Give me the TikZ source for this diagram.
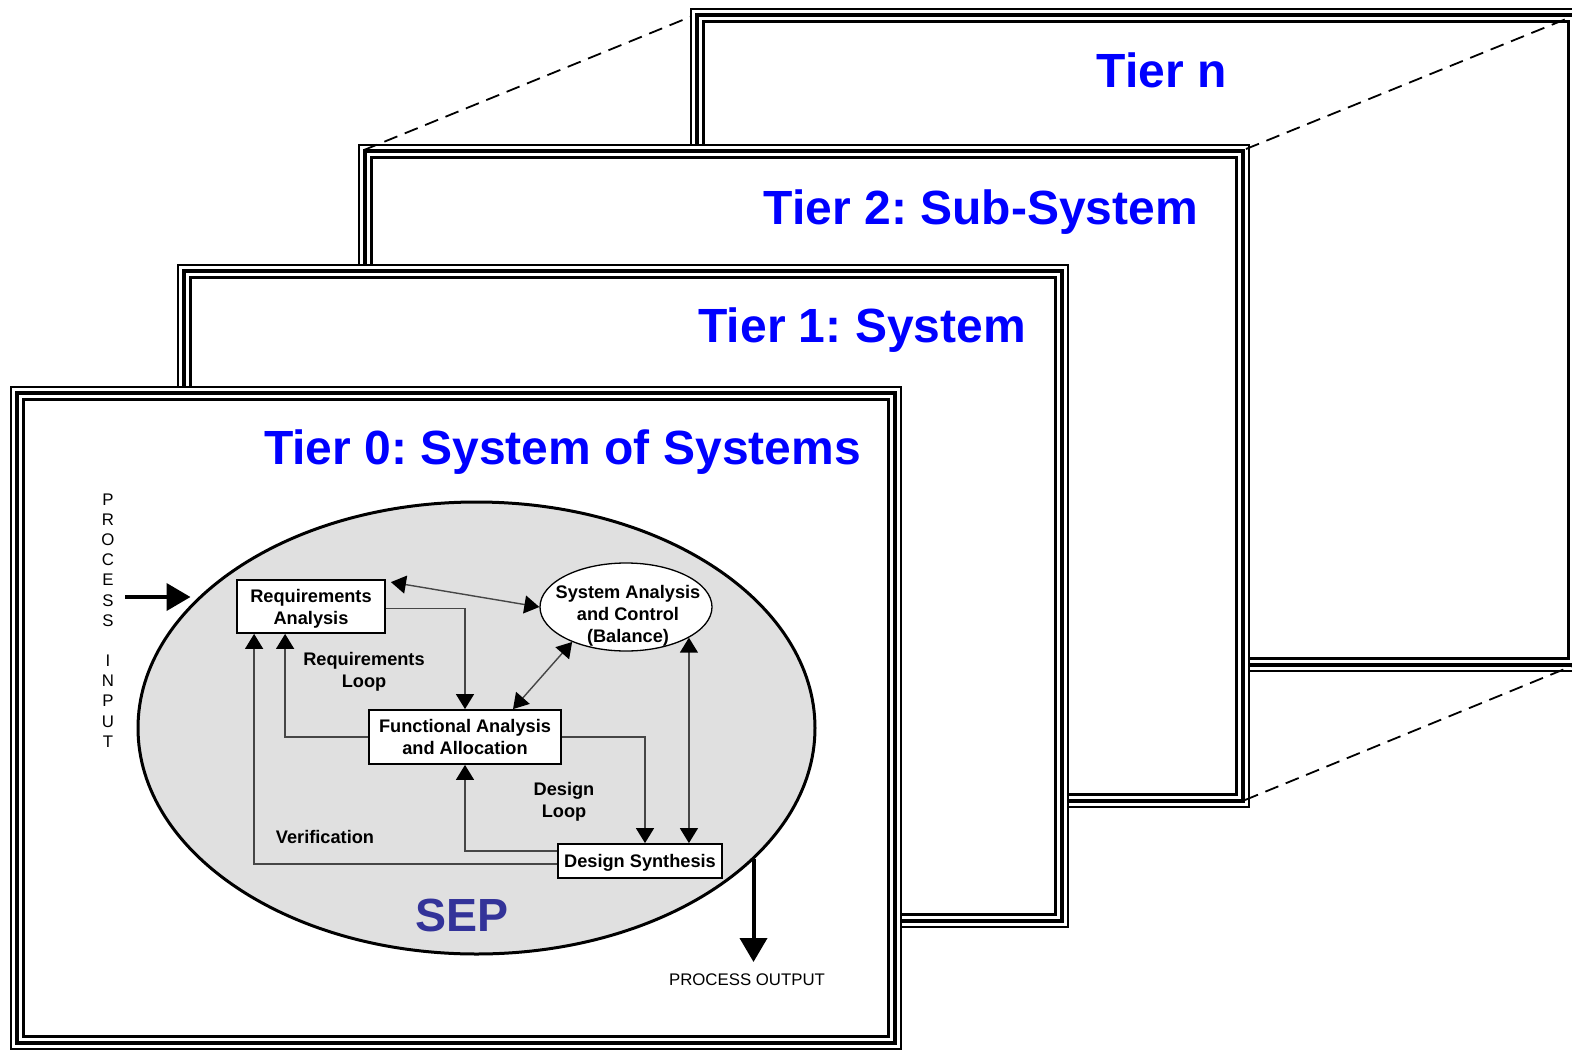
\documentclass[tikz,border=0pt]{standalone}
\usepackage{fontspec}
\setmainfont{Liberation Sans}
\frenchspacing
\usetikzlibrary{shapes.geometric,arrows.meta,calc}
\definecolor{tierblue}{RGB}{0,0,255}
\definecolor{sepblue}{RGB}{51,51,153}
\definecolor{sepgray}{RGB}{224,224,224}
\definecolor{conncol}{RGB}{70,70,70}
\newcommand{\tierframe}[2]{%
  \fill[white] (#1,#2) rectangle ++(892,664);
  \draw[line width=2.1] (#1+1,#2+1) rectangle ++(890,662);
  \draw[line width=4.5] (#1+7,#2+7) rectangle ++(878,650);
  \draw[line width=2.1] (#1+13.5,#2+13.5) rectangle ++(865,637);
}
\begin{document}
\begin{tikzpicture}[x=1pt,y=-1pt,
  tierlabel/.style={anchor=base east, inner sep=0, text=tierblue, font=\fontsize{48}{50}\selectfont\bfseries},
  procbox/.style={draw=black, line width=1.8, fill=white, inner sep=0, align=center, text depth=0pt, font=\fontsize{18.2}{22}\selectfont\bfseries},
  sacell/.style={ellipse, draw=black, line width=1.3, fill=white, inner sep=0, minimum width=172, minimum height=88},
  sepell/.style={ellipse, draw=black, line width=3, fill=sepgray, inner sep=0, minimum width=677, minimum height=452},
  lbl/.style={inner sep=0, align=center, text depth=0pt, font=\fontsize{18.2}{22}\selectfont\bfseries},
  reglbl/.style={inner sep=0, align=center, font=\fontsize{16.8}{20.17}\selectfont},
  seplbl/.style={inner sep=0, text=sepblue, font=\fontsize{46.5}{50}\selectfont\bfseries},
  conn/.style={draw=conncol, line width=1.4},
  arr/.style={conn, -{Triangle[length=15pt,width=18pt,color=black]}},
  dbl/.style={conn, {Triangle[length=15pt,width=18pt,color=black]}-{Triangle[length=15pt,width=18pt,color=black]}},
  bigarr/.style={draw=black, line width=4, -{Triangle[length=24pt,width=27pt]}},
  dashline/.style={draw=black, line width=1.8, dash pattern=on 14pt off 8pt}
]
\useasboundingbox (0,0) rectangle (1572,1052);
% frames, back to front
\tierframe{690}{8}
\node[tierlabel] (tn) at (1227,87) {Tier n};
\tierframe{358}{144}
\node[tierlabel] (t2) at (1198,224) {Tier 2: Sub-System};
\tierframe{177}{264}
\node[tierlabel] (t1) at (1026,342) {Tier 1: System};
\tierframe{10}{386}
\node[tierlabel] (t0) at (861,464) {Tier 0: System of Systems};
% dashed perspective lines
\coordinate (f2tl) at (364,150);
\coordinate (fntl) at (690,17);
\coordinate (f2tr) at (1246,149);
\coordinate (fntr) at (1566,19);
\coordinate (f2br) at (1245,800);
\coordinate (fnbr) at (1572,666);
\draw[dashline] (f2tl) -- (fntl);
\draw[dashline] (f2tr) -- (fntr);
\draw[dashline] (f2br) -- (fnbr);
% SEP
\node[sepell] (SEP) at (476.5,728) {};
\node[seplbl] (sep) at (462,915.5) {SEP};
\node[procbox, minimum width=148, minimum height=53] (RA) at (311,606.5) {Requirements\\Analysis};
\node[sacell] (SAC) at (626,607) {};
\node[lbl] (sactext) at ($(SAC.center)+(2,7)$) {System Analysis\\and Control\\(Balance)};
\node[procbox, minimum width=192, minimum height=54] (FA) at (465,737) {Functional Analysis\\and Allocation};
\node[procbox, minimum width=164, minimum height=34] (DS) at (640,861) {Design Synthesis};
\node[lbl] (rl) at (364,670) {Requirements\\Loop};
\node[lbl] (dl) at (564,800) {Design\\Loop};
\node[lbl] (ver) at (325,836.5) {Verification};
% connectors
\draw[dbl] ($(RA.north east)+(5,3)$) -- (SAC.west);
\draw[arr] ($(RA.east)+(0,2)$) -| (FA.north);
\draw[dbl] (SAC.213) -- ($(FA.north)+(48,0)$);
\draw[arr] (FA.west) -| ($(RA.south west)+(49,0)$);
\draw[arr] (FA.east) -| ($(DS.north)+(5,0)$);
\draw[dbl] (SAC.-26) -- (SAC.-26 |- DS.north);
\draw[arr] ($(DS.west)+(0,-10)$) -| (FA.south);
\draw[arr] ($(DS.west)+(0,3)$) -| ($(RA.south west)+(18,0)$);
% process input / output
\node[reglbl] (pin) at (108,620.5) {P\\R\\O\\C\\E\\S\\S\\\mbox{}\\I\\N\\P\\U\\T};
\coordinate (pinstart) at (125,597);
\draw[bigarr] (pinstart) -- ($(SEP.west)+(54,-131)$);
\node[reglbl] (pout) at (747,979.5) {PROCESS OUTPUT};
\draw[bigarr] ($(SEP.east)+(-63,131)$) -- ($(SEP.east)+(-63,234)$);
\end{tikzpicture}
\end{document}
